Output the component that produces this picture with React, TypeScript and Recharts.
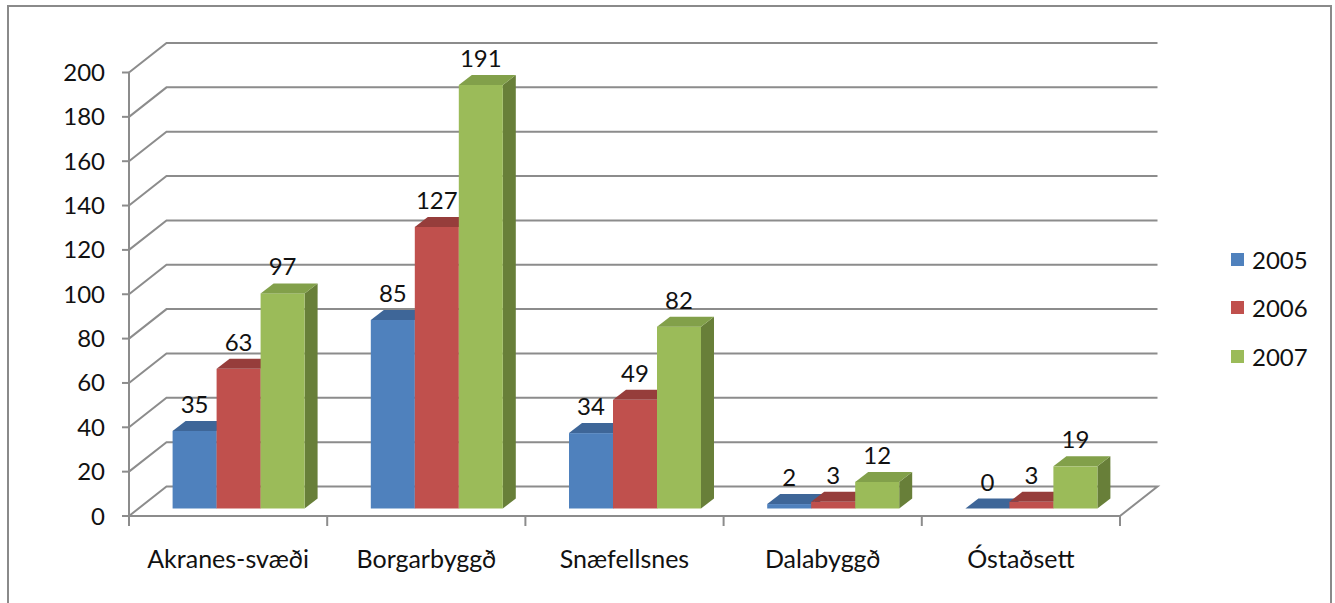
import React from 'react';
import { BarChart, Bar, XAxis, YAxis, CartesianGrid, Legend, LabelList } from 'recharts';

const categories = ['Akranes-svæði', 'Borgarbyggð', 'Snæfellsnes', 'Dalabyggð', 'Óstaðsett'];
const values2005 = [35, 85, 34, 2, 0];
const values2006 = [63, 127, 49, 3, 3];
const values2007 = [97, 191, 82, 12, 19];
const seriesNames = ['2005', '2006', '2007'];
const yTicks = [0, 20, 40, 60, 80, 100, 120, 140, 160, 180, 200];

const data = categories.map((c, i) => ({
  name: c,
  s2005: values2005[i],
  s2006: values2006[i],
  s2007: values2007[i],
}));

const FONT = 'Lato, "Open Sans", sans-serif';
const FS = 24;
const GRID = '#8c8c8c';

// 3D offsets
const BACK_DX = 37.5;
const BACK_DY = -29.5;
const BAR_DX = 10.5;
const BAR_DY = -7.5;
const DEPTH_DX = 13;
const DEPTH_DY = -10;

const faces: Record<string, { front: string; top: string; side: string }> = {
  s2005: { front: '#4F81BD', top: '#3E6698', side: '#385D8A' },
  s2006: { front: '#C0504D', top: '#963D3B', side: '#8C3836' },
  s2007: { front: '#9BBB59', top: '#82A04A', side: '#687F39' },
};

const makeShape = (key: string) => (props: any) => {
  const { x, y, width, height } = props;
  if (x == null || y == null) return null;
  const f = faces[key];
  const fx = x + BAR_DX;
  const fy = y + BAR_DY;
  const w = width;
  const h = Math.max(height, 0);
  const top = `${fx},${fy} ${fx + DEPTH_DX},${fy + DEPTH_DY} ${fx + w + DEPTH_DX},${fy + DEPTH_DY} ${fx + w},${fy}`;
  const side = `${fx + w},${fy} ${fx + w + DEPTH_DX},${fy + DEPTH_DY} ${fx + w + DEPTH_DX},${fy + h + DEPTH_DY} ${fx + w},${fy + h}`;
  return (
    <g>
      <polygon points={side} fill={f.side} />
      <rect x={fx} y={fy} width={w} height={h} fill={f.front} />
      <polygon points={top} fill={f.top} />
    </g>
  );
};

const renderLabel = (props: any) => {
  const { x, y, width, value } = props;
  return (
    <text
      x={x + BAR_DX + width / 2}
      y={y + BAR_DY + DEPTH_DY - 8}
      textAnchor="middle"
      fontFamily={FONT}
      fontSize={FS}
      fill="#111"
    >
      {value}
    </text>
  );
};

const gridLine = (props: any) => {
  const { x1, x2, y1, index } = props;
  const isFloor = index === 0 || Math.abs(y1 - props.y - props.height) < 0.5;
  let pts = `${x1},${y1} ${x1 + BACK_DX},${y1 + BACK_DY} ${x2 + BACK_DX},${y1 + BACK_DY}`;
  if (isFloor) pts += ` ${x2},${y1}`;
  return <polyline key={`g-${index}`} points={pts} fill="none" stroke={GRID} strokeWidth={2} />;
};

const CatTick = (props: any) => {
  const { x, y, payload, index, visibleTicksCount, width } = props;
  const band = width / visibleTicksCount;
  return (
    <g>
      <line x1={x - band / 2} y1={y} x2={x - band / 2} y2={y + 10} stroke={GRID} strokeWidth={2} />
      {index === visibleTicksCount - 1 && (
        <line x1={x + band / 2} y1={y} x2={x + band / 2} y2={y + 10} stroke={GRID} strokeWidth={2} />
      )}
      <text x={x} y={y + 46} textAnchor="middle" dominantBaseline="middle" fontFamily={FONT} fontSize={25} fill="#111">
        {payload.value}
      </text>
    </g>
  );
};

const LegendContent = () => (
  <div style={{ fontFamily: FONT, fontSize: FS, color: '#111' }}>
    {seriesNames.map((n, i) => {
      const key = ['s2005', 's2006', 's2007'][i];
      return (
        <div key={n} style={{ height: 48.5, display: 'flex', alignItems: 'center' }}>
          <span style={{ display: 'inline-block', width: 13, height: 13, background: faces[key].front, marginRight: 8 }} />
          <span>{n}</span>
        </div>
      );
    })}
  </div>
);

export default function App() {
  return (
    <div style={{ position: 'absolute', left: 0, top: 0, width: 1335, height: 603, overflow: 'hidden', background: '#fff' }}>
      <div
        style={{
          position: 'absolute',
          left: 7,
          top: 5,
          width: 1325,
          height: 640,
          border: '2px solid #8a8a8a',
          boxSizing: 'border-box',
        }}
      />
      <BarChart
        width={1335}
        height={603}
        data={data}
        margin={{ top: 72.5, right: 115, bottom: 0, left: 69 }}
        barGap={0}
        barCategoryGap="16.7%"
        style={{ position: 'absolute', left: 0, top: 0 }}
      >
        <CartesianGrid vertical={false} horizontal={gridLine} />
        <XAxis
          dataKey="name"
          height={87}
          axisLine={{ stroke: GRID, strokeWidth: 2 }}
          tickLine={false}
          tickSize={0}
          tickMargin={0}
          interval={0}
          tick={<CatTick />}
        />
        <YAxis
          width={60}
          domain={[0, 200]}
          ticks={yTicks}
          interval={0}
          axisLine={{ stroke: GRID, strokeWidth: 2 }}
          tickLine={{ stroke: GRID, strokeWidth: 2 }}
          tickSize={7}
          tickMargin={17}
          tick={{ fontFamily: FONT, fontSize: FS, fill: '#111' }}
        />
        <Legend
          layout="horizontal"
          verticalAlign="middle"
          align="right"
          content={<LegendContent />}
          wrapperStyle={{ left: 1231, top: 235, width: 100, right: 'auto', bottom: 'auto' }}
        />
        <Bar dataKey="s2005" name={seriesNames[0]} fill={faces.s2005.front} isAnimationActive={false} shape={makeShape('s2005')}>
          <LabelList dataKey="s2005" content={renderLabel} />
        </Bar>
        <Bar dataKey="s2006" name={seriesNames[1]} fill={faces.s2006.front} isAnimationActive={false} shape={makeShape('s2006')}>
          <LabelList dataKey="s2006" content={renderLabel} />
        </Bar>
        <Bar dataKey="s2007" name={seriesNames[2]} fill={faces.s2007.front} isAnimationActive={false} shape={makeShape('s2007')}>
          <LabelList dataKey="s2007" content={renderLabel} />
        </Bar>
      </BarChart>
    </div>
  );
}
